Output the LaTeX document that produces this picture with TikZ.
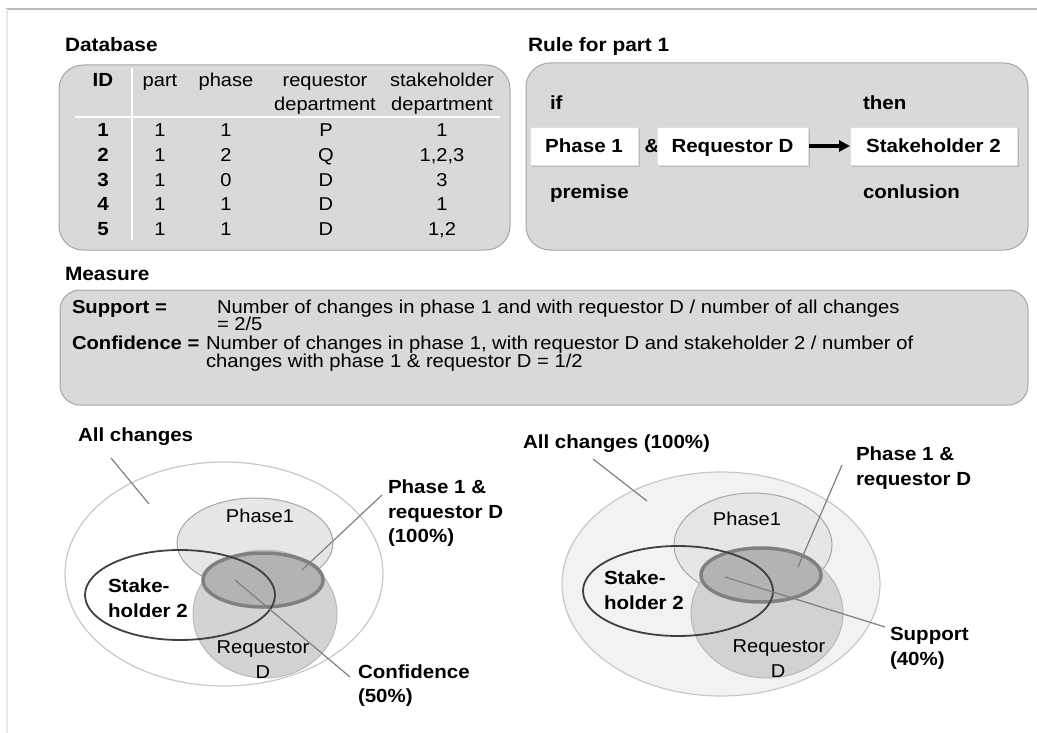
\documentclass[tikz,border=0pt]{standalone}
\usepackage{fontspec}
\setmainfont[FakeStretch=1.08]{Liberation Sans}
\usetikzlibrary{shadows,arrows.meta}
\definecolor{boxfill}{HTML}{D9D9D9}
\definecolor{boxline}{HTML}{A6A6A6}
\definecolor{ph1fill}{HTML}{E6E6E6}
\definecolor{reqfill}{HTML}{CFCFCF}
\definecolor{isfill}{HTML}{B3B3B3}
\definecolor{isline}{HTML}{808080}
\definecolor{outline}{HTML}{C8C8C8}
\begin{document}
\begin{tikzpicture}[x=1pt,y=-1pt,
  every node/.style={inner sep=0pt, outer sep=0pt},
  txt/.style={font=\fontsize{18.6}{22}\selectfont},
  btxt/.style={font=\fontsize{19}{22}\selectfont\bfseries},
  ttxt/.style={font=\fontsize{19.3}{22}\selectfont\bfseries},
  mtxt/.style={font=\fontsize{18.7}{21}\selectfont},
  mbtxt/.style={font=\fontsize{18.7}{21}\selectfont\bfseries},
  panel/.style={draw=boxline, fill=boxfill, rounded corners=24pt, line width=1pt},
  rulebox/.style={draw=gray!25, fill=white, minimum height=38pt, line width=0.8pt,
    text height=13.5pt, text depth=0pt,
    drop shadow={shadow xshift=2pt, shadow yshift=-2pt, opacity=0.35}, btxt},
  leader/.style={draw=gray, line width=1.2pt},
  outerell/.style={draw=outline, line width=1.2pt},
  ph1ell/.style={draw=gray!70, fill=ph1fill, line width=1pt},
  reqell/.style={draw=gray!55, fill=reqfill, fill opacity=0.9, line width=1pt},
  isell/.style={draw=isline, fill=isfill, line width=3.5pt},
  stkell/.style={draw=black!75, line width=1.8pt},
]
\useasboundingbox (0,0) rectangle (1037,733);
% frame
\draw[gray!55, line width=1.5pt] (6,9) -- (1037,9);
\draw[gray!18, line width=1.5pt] (7,9) -- (7,733);

% ---------- Database ----------
\node[ttxt, anchor=base west] (dbtitle) at (65,52) {Database};
\draw[panel] (59,65) rectangle (510,250);
\draw[white, line width=1.5pt] (132,68) -- (132,240);
\draw[white, line width=2pt] (75,117) -- (500,117);
\node[btxt, anchor=base] (hid) at (103,87) {ID};
\node[txt, anchor=base] (hpart) at (160,87) {part};
\node[txt, anchor=base] (hphase) at (226,87) {phase};
\node[txt, anchor=base] (hreq) at (325,87) {requestor};
\node[txt, anchor=base] (hreq2) at (325,111) {department};
\node[txt, anchor=base] (hstk) at (442,87) {stakeholder};
\node[txt, anchor=base] (hstk2) at (442,111) {department};
\foreach \i/\p/\ph/\r/\s/\y in {1/1/1/P/1/137, 2/1/2/Q/{1,2,3}/161.5, 3/1/0/D/3/186, 4/1/1/D/1/210.5, 5/1/1/D/{1,2}/235}{
  \node[btxt, anchor=base] (id\i) at (103,\y) {\i};
  \node[txt, anchor=base] (pa\i) at (160,\y) {\p};
  \node[txt, anchor=base] (ph\i) at (226,\y) {\ph};
  \node[txt, anchor=base] (rq\i) at (326,\y) {\r};
  \node[txt, anchor=base] (sh\i) at (442,\y) {\s};
}

% ---------- Rule ----------
\node[ttxt, anchor=base west] (ruletitle) at (528,52) {Rule for part 1};
\draw[panel] (526,63) rectangle (1028,250);
\node[btxt, anchor=base west] (if) at (550,110) {if};
\node[btxt, anchor=base west] (then) at (863,110) {then};
\node[btxt, anchor=base west] (premise) at (550,199) {premise};
\node[btxt, anchor=base west] (concl) at (863,199) {conlusion};
\node[rulebox, minimum width=108pt] (bph) at (584,146) {Phase 1};
\node[btxt, text height=13.5pt, text depth=0pt] (amp) at (652,146) {\&};
\node[rulebox, minimum width=151pt] (breq) at (732.5,146) {Requestor D};
\node[rulebox, minimum width=167pt] (bstk) at (933.5,146) {Stakeholder 2};
\draw[line width=3.5pt, -{Triangle[length=11pt,width=11pt]}] (breq.east) ++(1pt,0) -- (bstk.west);

% ---------- Measure ----------
\node[ttxt, anchor=base west] (meastitle) at (65,280) {Measure};
\draw[panel, rounded corners=20pt] (60,290) rectangle (1028,405);
\node[mbtxt, anchor=base west] (sup) at (72,313) {Support =};
\node[mtxt, anchor=base west] (sup1) at (217,313) {Number of changes in phase 1 and with requestor D / number of all changes};
\node[mtxt, anchor=base west] (sup2) at (217,330) {= 2/5};
\node[mbtxt, anchor=base west] (conf) at (72,349) {Confidence =};
\node[mtxt, anchor=base west] (conf1) at (206,349) {Number of changes in phase 1, with requestor D and stakeholder 2 / number of};
\node[mtxt, anchor=base west] (conf2) at (206,367) {changes with phase 1 \& requestor D = 1/2};

% ---------- Left Venn ----------
\draw[outerell, fill=white] (224,574) ellipse [x radius=159pt, y radius=112pt];
\draw[ph1ell] (255,543) ellipse [x radius=78pt, y radius=45pt];
\draw[reqell] (265,614) ellipse [x radius=72pt, y radius=64pt];
\draw[isell] (263,580) ellipse [x radius=60pt, y radius=27pt];
\draw[stkell] (180,595) ellipse [x radius=95pt, y radius=45pt];
\node[btxt, anchor=base west] (lall) at (78,441) {All changes};
\node[txt, anchor=base] (lph1) at (260,522) {Phase1};
\node[txt, anchor=base] (lreq) at (263,653) {Requestor};
\node[txt, anchor=base] (lreqd) at (263,678) {D};
\node[btxt, anchor=base west] (lstk) at (108,592) {Stake-};
\node[btxt, anchor=base west] (lstk2) at (108,617) {holder 2};
\node[btxt, anchor=base west] (lpr) at (388,493) {Phase 1 \&};
\node[btxt, anchor=base west] (lpr2) at (388,518) {requestor D};
\node[btxt, anchor=base west] (lpr3) at (388,542) {(100\%)};
\node[btxt, anchor=base west] (lconf) at (358,678) {Confidence};
\node[btxt, anchor=base west] (lconf2) at (358,702) {(50\%)};
\coordinate (la1) at (111,458); \coordinate (la2) at (149,504);
\coordinate (lp1) at (382,495); \coordinate (lp2) at (302,570);
\coordinate (lc1) at (350,677); \coordinate (lc2) at (235,580);
\draw[leader] (la1) -- (la2);
\draw[leader] (lp1) -- (lp2);
\draw[leader] (lc1) -- (lc2);

% ---------- Right Venn ----------
\draw[outerell, fill=black!5] (721,584) ellipse [x radius=159pt, y radius=112pt];
\draw[ph1ell] (753,545) ellipse [x radius=79pt, y radius=52pt];
\draw[reqell] (767,613) ellipse [x radius=76pt, y radius=65pt];
\draw[isell] (761,575) ellipse [x radius=60pt, y radius=27pt];
\draw[stkell] (678,591) ellipse [x radius=95pt, y radius=45pt];
\node[btxt, anchor=base west] (rall) at (523,448) {All changes (100\%)};
\node[txt, anchor=base] (rph1) at (747,525) {Phase1};
\node[txt, anchor=base] (rreq) at (779,652) {Requestor};
\node[txt, anchor=base] (rreqd) at (778,677) {D};
\node[btxt, anchor=base west] (rstk) at (604,584) {Stake-};
\node[btxt, anchor=base west] (rstk2) at (604,609) {holder 2};
\node[btxt, anchor=base west] (rpr) at (856,460) {Phase 1 \&};
\node[btxt, anchor=base west] (rpr2) at (856,485) {requestor D};
\node[btxt, anchor=base west] (rsup) at (890,640) {Support};
\node[btxt, anchor=base west] (rsup2) at (890,665) {(40\%)};
\coordinate (ra1) at (593,459); \coordinate (ra2) at (647,501);
\coordinate (rp1) at (842,465); \coordinate (rp2) at (798,567);
\coordinate (rs1) at (885,627); \coordinate (rs2) at (725,577);
\draw[leader] (ra1) -- (ra2);
\draw[leader] (rp1) -- (rp2);
\draw[leader] (rs1) -- (rs2);
\end{tikzpicture}
\end{document}
